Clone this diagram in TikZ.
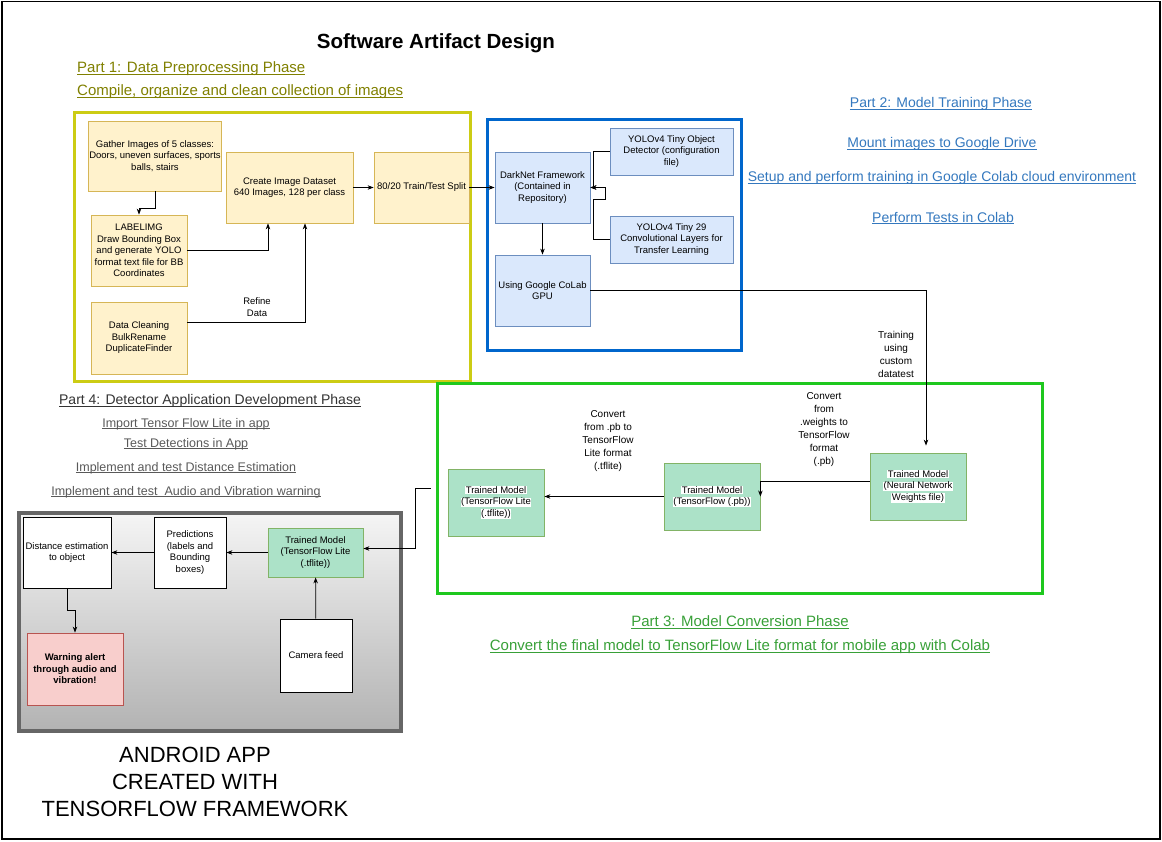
\documentclass[tikz,border=0pt]{standalone}
\usepackage{fontspec}
\setmainfont{Liberation Sans}
\usetikzlibrary{arrows.meta}
\definecolor{yfill}{RGB}{255,242,204}
\definecolor{ydraw}{RGB}{214,182,86}
\definecolor{bfill}{RGB}{218,232,252}
\definecolor{bdraw}{RGB}{108,142,191}
\definecolor{gfill}{RGB}{172,226,200}
\definecolor{gdraw}{RGB}{130,179,102}
\definecolor{rfill}{RGB}{248,206,204}
\definecolor{rdraw}{RGB}{184,84,80}
\definecolor{partone}{RGB}{128,128,0}
\definecolor{parttwo}{RGB}{52,120,190}
\definecolor{partthree}{RGB}{56,160,56}
\definecolor{yframe}{RGB}{204,204,20}
\definecolor{bframe}{RGB}{0,102,204}
\definecolor{gframe}{RGB}{30,200,30}
\definecolor{aframe}{RGB}{102,102,102}
\newcommand{\wbg}[1]{{\setlength{\fboxsep}{0.5pt}\colorbox{white}{#1}}}
\newcommand{\ulin}[1]{\setbox0\hbox{#1}\rlap{\rule[-1.8pt]{\wd0}{0.7pt}}\box0}

\begin{document}
\begin{tikzpicture}[x=1pt,y=-1pt,>={Stealth[length=6pt,width=4.5pt]},
	box/.style={draw,align=center,inner sep=1pt,line width=0.8pt,font=\fontsize{9.5}{11.5}\selectfont},
	ybox/.style={box,draw=ydraw,fill=yfill},bbox/.style={box,draw=bdraw,fill=bfill},
	gbox/.style={box,draw=gdraw,fill=gfill},wbox/.style={box,draw=black,fill=white},
	rbox/.style={box,draw=rdraw,fill=rfill,font=\fontsize{9.5}{11.5}\selectfont\bfseries},
	sz/.style 2 args={minimum width=#1,minimum height=#2},
	frame/.style={line width=3pt},
	phase/.style={inner sep=0pt,font=\fontsize{14}{17}\selectfont},
	note/.style={align=center,inner sep=0pt,font=\fontsize{10}{13}\selectfont},
	link/.style={->,line width=0.8pt}]
\useasboundingbox (0,0) rectangle (1162,841);
\draw[line width=1.5pt] (2,1.5) rectangle (1160,839);
\draw[frame,yframe] (74,112) rectangle (470,381);
\draw[frame,bframe] (487,119) rectangle (741,350);
\draw[frame,gframe] (437,383) rectangle (1042,593);
\draw[line width=3.5pt,draw=aframe,top color=black!4,bottom color=black!30] (19,513) rectangle (401,731);

\node[font=\fontsize{20.5}{24}\selectfont\bfseries] (title) at (436,43) {Software Artifact Design};
\node[phase,anchor=west,partone,font=\fontsize{15}{18}\selectfont] (p1a) at (77,69) {\ulin{Part 1: Data Preprocessing Phase}};
\node[phase,anchor=west,partone,font=\fontsize{15}{18}\selectfont] (p1b) at (77,92) {\ulin{Compile, organize and clean collection of images}};
\node[phase,parttwo] (p2a) at (941,104) {\ulin{Part 2: Model Training Phase}};
\node[phase,parttwo] (p2b) at (942,144) {\ulin{Mount images to Google Drive}};
\node[phase,parttwo] (p2c) at (942,178) {\ulin{Setup and perform training in Google Colab cloud environment}};
\node[phase,parttwo] (p2d) at (943,218) {\ulin{Perform Tests in Colab}};
\node[phase,partthree,font=\fontsize{15}{18}\selectfont] (p3a) at (740,622) {\ulin{Part 3: Model Conversion Phase}};
\node[phase,partthree,font=\fontsize{15}{18}\selectfont] (p3b) at (740,647) {\ulin{Convert the final model to TensorFlow Lite format for mobile app with Colab}};
\node[phase,black!80] (p4a) at (210,401) {\ulin{Part 4: Detector Application Development Phase}};
\node[phase,black!65,font=\fontsize{12.5}{15}\selectfont] (p4b) at (186,424) {\ulin{Import Tensor Flow Lite in app}};
\node[phase,black!65,font=\fontsize{12.5}{15}\selectfont] (p4c) at (186,444) {\ulin{Test Detections in App}};
\node[phase,black!65,font=\fontsize{12.5}{15}\selectfont] (p4d) at (186,468) {\ulin{Implement and test Distance Estimation}};
\node[phase,black!65,font=\fontsize{12.5}{15}\selectfont] (p4e) at (186,492) {\ulin{Implement and test~ Audio and Vibration warning}};
\node[align=center,inner sep=0pt,font=\fontsize{22}{27}\selectfont] (android) at (195,782) {ANDROID APP\\CREATED WITH\\TENSORFLOW FRAMEWORK};

% part 1
\node[ybox,sz={126}{70}] (gather) at (155,156) {Gather Images of 5 classes:\\Doors, uneven surfaces, sports\\balls, stairs};
\node[ybox,sz={96}{71}] (labelimg) at (139,250.5) {LABELIMG\\Draw Bounding Box\\and generate YOLO\\format text file for BB\\Coordinates};
\node[ybox,sz={96}{72}] (clean) at (139,338) {Data Cleaning\\BulkRename\\DuplicateFinder};
\node[ybox,sz={127}{71}] (dataset) at (289.5,187.5) {Create Image Dataset\\640 Images, 128 per class};
\node[ybox,sz={95}{71}] (split) at (421.5,187.5) {80/20 Train/Test Split};
\node[note,font=\fontsize{9.5}{11.5}\selectfont] (refine) at (257,307) {Refine\\Data};
% part 2
\node[bbox,sz={95}{71}] (darknet) at (542.5,187.5) {DarkNet Framework\\(Contained in\\Repository)};
\node[bbox,sz={95}{71}] (colab) at (542.5,290.5) {Using Google CoLab\\GPU};
\node[bbox,sz={123}{47}] (cfg) at (671.5,151.5) {YOLOv4 Tiny Object\\Detector (configuration\\file)};
\node[bbox,sz={123}{47}] (conv) at (671.5,239.5) {YOLOv4 Tiny 29\\Convolutional Layers for\\Transfer Learning};
\node[note] (training) at (896,354) {Training\\using\\custom\\datatest};
% part 3
\node[gbox,sz={96}{67}] (weights) at (918,486.5) {\wbg{Trained Model}\\\wbg{(Neural Network}\\\wbg{Weights file)}};
\node[gbox,sz={96}{67}] (pb) at (712,496.5) {\wbg{Trained Model}\\\wbg{(TensorFlow (.pb))}};
\node[gbox,sz={96}{67}] (tflite) at (496,502.5) {\wbg{Trained Model}\\\wbg{(TensorFlow Lite}\\\wbg{(.tflite))}};
\node[note] (topb) at (824,429.5) {Convert\\from\\.weights to\\TensorFlow\\format\\(.pb)};
\node[note] (totfl) at (608,441.5) {Convert\\from .pb to\\TensorFlow\\Lite format\\(.tflite)};
% part 4
\node[wbox,sz={88}{71}] (dist) at (67,552.5) {Distance estimation\\to object};
\node[wbox,sz={72}{71}] (pred) at (190,552.5) {Predictions\\(labels and\\Bounding\\boxes)};
\node[gbox,sz={95}{49}] (apptfl) at (315.5,552.5) {Trained Model\\(TensorFlow Lite\\(.tflite))};
\node[wbox,sz={72}{73}] (cam) at (316,655.5) {Camera feed};
\node[rbox,sz={96}{72}] (warn) at (75,669) {Warning alert\\through audio and\\vibration!};

\draw[link] (gather.south) -- ++(0,17) -| (labelimg.north);
\draw[link] (labelimg.east) -| ([xshift=-21.5pt]dataset.south);
\draw[link] ([yshift=16pt]clean.east) -| ([xshift=15.5pt]dataset.south);
\draw[link] (dataset) -- (split);
\draw[link] (split) -- (darknet);
\draw[link] (cfg.west) -- ++(-16,0) |- (darknet.east);
\draw[link] (conv.west) -- ++(-16,0) -- ++(0,-40) -- ++(12,0) |- (darknet.east);
\draw[link] (darknet) -- (colab);
\draw[link,shorten >=7pt] (colab.east) -| ([xshift=8pt]weights.north);
\draw[link] ([yshift=5pt]weights.west) -| (pb.east);
\draw[link] (pb.west) -- (pb.west -| tflite.east);
\draw[link,shorten <=17pt] ([yshift=14pt]tflite.west) -- ++(-32,0) |- ([yshift=4pt]apptfl.east);
\draw[link] (apptfl) -- (pred);
\draw[link] (pred) -- (dist);
\draw[link] (dist.south) -- ++(0,22) -| (warn.north);
\draw[link] (cam) -- (apptfl);
\end{tikzpicture}
\end{document}
